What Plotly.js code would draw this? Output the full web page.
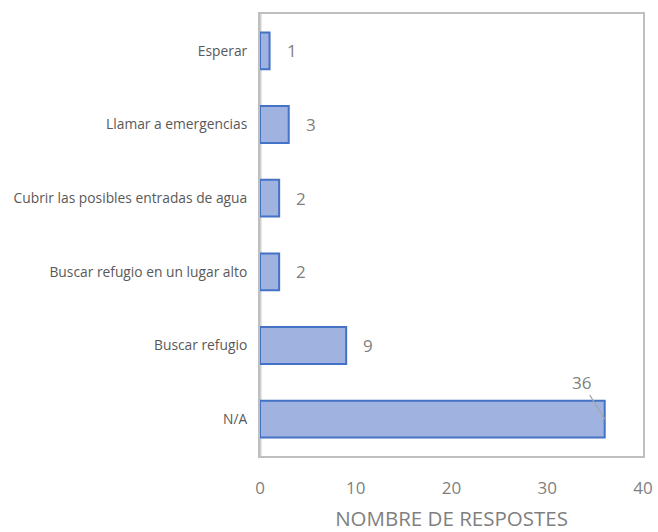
<!DOCTYPE html>
<html><head><meta charset="utf-8">
<script src="https://cdn.plot.ly/plotly-3.0.1.min.js"></script>
<style>html,body{margin:0;padding:0;background:#fff}#chart{width:658px;height:532px}</style>
</head><body><div id="chart"></div>
<script>
const categories = ["N/A","Buscar refugio","Buscar refugio en un lugar alto","Cubrir las posibles entradas de agua","Llamar a emergencias","Esperar"];
const values = [36, 9, 2, 2, 3, 1];
const xTicks = [0, 10, 20, 30, 40];

const labelFont = {family: 'Open Sans, sans-serif', size: 17, color: '#7f7f7f'};
const annotations = categories.map((c, i) => {
  if (values[i] >= 30) {
    return {x: values[i], y: c, xref: 'x', yref: 'y', text: String(values[i]), showarrow: true,
      arrowhead: 0, arrowwidth: 1.2, arrowcolor: '#a6a6a6', ax: -23, ay: -37, standoff: 0,
      font: labelFont};
  }
  return {x: values[i], y: c, xref: 'x', yref: 'y', text: String(values[i]), showarrow: false,
    xanchor: 'left', xshift: 15, font: labelFont};
});

Plotly.newPlot('chart', [{
  type: 'bar', orientation: 'h', x: values, y: categories,
  marker: {color: '#9fb2e0', line: {color: '#4472c4', width: 2}},
  hoverinfo: 'none'
}], {
  width: 658, height: 532,
  margin: {l: 260, r: 15, t: 14, b: 76},
  paper_bgcolor: '#fff', plot_bgcolor: '#fff',
  bargap: 0.5,
  showlegend: false,
  xaxis: {range: [0, 40], tickvals: xTicks, showgrid: false, zeroline: false,
    showline: true, mirror: true, linecolor: '#bfbfbf', linewidth: 2,
    ticks: '', ticklabelstandoff: 16,
    tickfont: {family: 'Open Sans, sans-serif', size: 17, color: '#7f7f7f'},
    title: {text: 'NOMBRE DE RESPOSTES', standoff: 18, font: {family: 'Open Sans, sans-serif', size: 20.5, color: '#7f7f7f'}}},
  yaxis: {showgrid: false, zeroline: false, showline: true, mirror: true, linecolor: '#bfbfbf', linewidth: 2,
    ticks: '', ticklabelstandoff: 8,
    tickfont: {family: 'Open Sans, sans-serif', size: 13.8, color: '#595959'}},
  shapes: [{type: 'line', xref: 'x', yref: 'paper', x0: 0, x1: 0, y0: 0, y1: 1, line: {color: '#d0d0d0', width: 3}, layer: 'below'}],
  annotations: annotations
}, {displayModeBar: false, staticPlot: true});
</script></body></html>
